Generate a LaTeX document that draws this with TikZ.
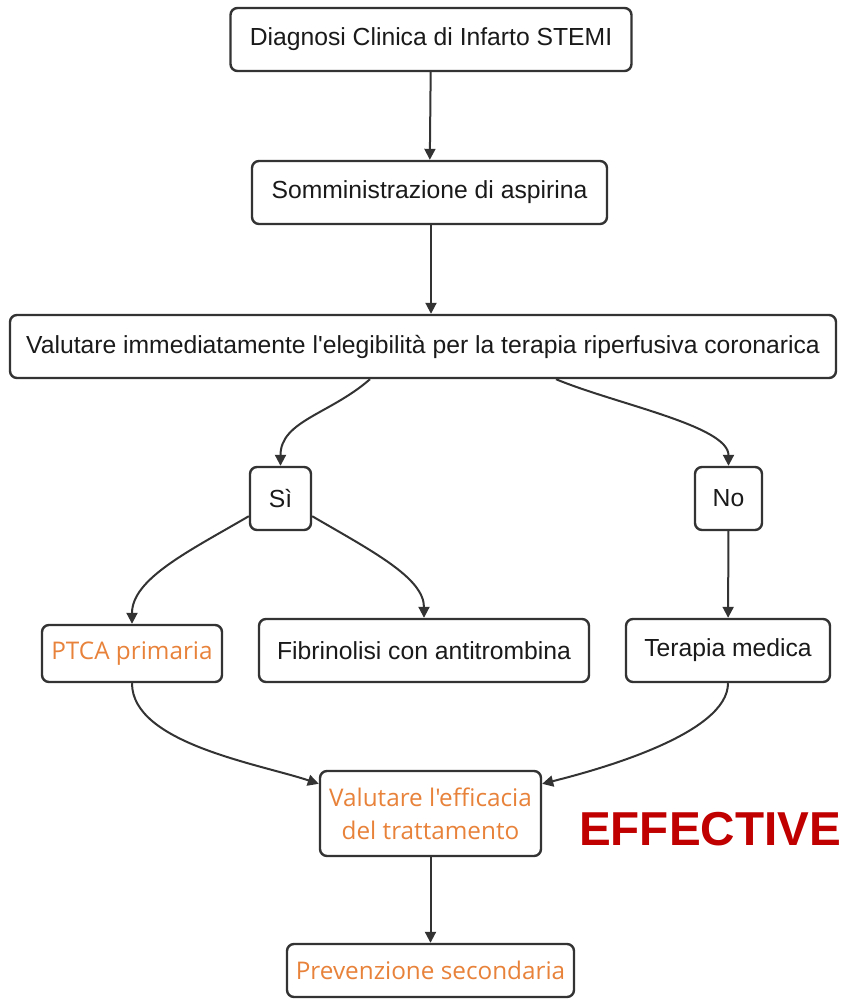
\documentclass[tikz,border=0pt]{standalone}
\usepackage{fontspec}
\setmainfont{Liberation Sans}[Ligatures=TeXOff]
\newfontfamily\orfont{Open Sans}[Ligatures=TeXOff]
\usetikzlibrary{arrows.meta}
\definecolor{ln}{HTML}{333333}
\definecolor{tx}{HTML}{1A1A1A}
\definecolor{org}{HTML}{E8823A}
\definecolor{eff}{HTML}{C00000}
\begin{document}
\begin{tikzpicture}[x=1pt,y=-1pt,
  box/.style={draw=ln,line width=2.4pt,rounded corners=7pt,fill=white,inner sep=0pt,text=tx,font=\fontsize{24.7}{29}\selectfont},
  obox/.style={box,text=org,font=\orfont\fontsize{24.3}{33}\selectfont},
  conn/.style={draw=ln,line width=2pt,-{Triangle[length=11pt,width=11pt]}}]
\useasboundingbox (0,0) rectangle (846,1001);
\node[box,minimum width=401pt,minimum height=63pt] (dia) at (431,39.5) {Diagnosi Clinica di Infarto STEMI};
\node[box,minimum width=355pt,minimum height=63pt] (som) at (429.5,192.5) {Somministrazione di aspirina};
\node[box,minimum width=826pt,minimum height=63pt] (val) at (423,346.5) {Valutare immediatamente l'elegibilità per la terapia riperfusiva coronarica};
\node[box,minimum width=61pt,minimum height=63pt] (si) at (280.5,498.5) {Sì};
\node[box,minimum width=67pt,minimum height=63pt] (no) at (728.5,498.5) {No};
\node[obox,minimum width=180pt,minimum height=57pt] (ptca) at (132,653.5) {PTCA primaria};
\node[box,minimum width=330pt,minimum height=63pt] (fib) at (424,650.5) {Fibrinolisi con antitrombina};
\node[box,minimum width=204pt,minimum height=63pt] (ter) at (728,650.5) {Terapia medica};
\node[obox,minimum width=221pt,minimum height=85pt,align=center] (eff) at (430.5,813.5) {Valutare l'efficacia\\del trattamento};
\node[obox,minimum width=287pt,minimum height=53pt] (pre) at (430.5,970.5) {Prevenzione secondaria};
\node[text=eff,font=\bfseries\fontsize{47.6}{50}\selectfont,anchor=center] (lbl) at (710,829) {EFFECTIVE};

\draw[conn] (dia) -- (som);
\draw[conn] ([xshift=1.5pt]som.south) -- ([xshift=8pt]val.north);
\draw[conn] ([xshift=-53pt]val.south) .. controls +(-40,35) and +(0,-45) .. (si.north);
\draw[conn] ([xshift=133pt]val.south) .. controls +(60,25) and +(0,-40) .. (no.north);
\draw[conn] ([yshift=15pt]si.south west) .. controls +(-60,35) and +(0,-45) .. (ptca.north);
\draw[conn] ([yshift=15pt]si.south east) .. controls +(60,35) and +(0,-40) .. (fib.north);
\draw[conn] (no) -- (ter);
\draw[conn] (ptca.south) .. controls +(0,60) and +(-60,-20) .. ([yshift=-14pt]eff.north west);
\draw[conn] (ter.south) .. controls +(0,50) and +(60,-15) .. ([yshift=-14pt]eff.north east);
\draw[conn] (eff) -- (pre);
\end{tikzpicture}
\end{document}
